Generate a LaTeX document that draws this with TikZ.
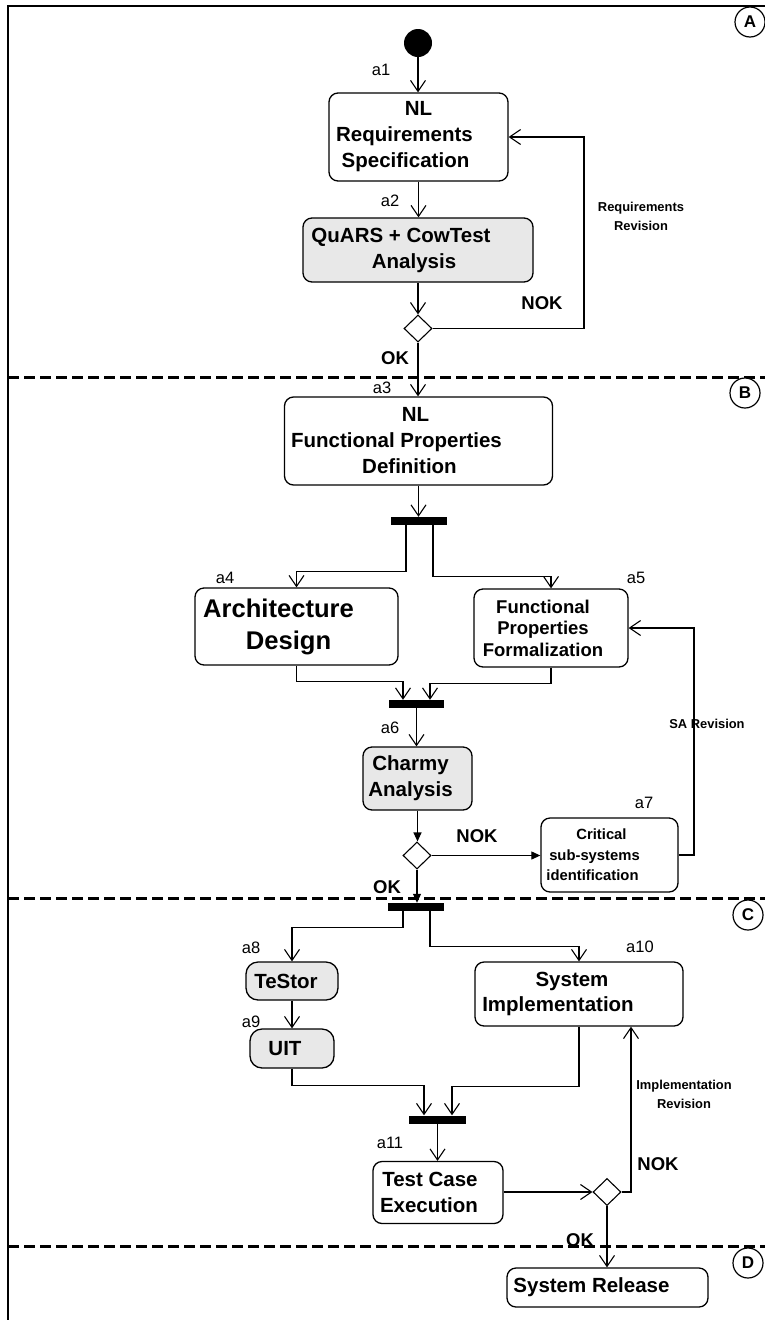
\documentclass[tikz,border=0pt]{standalone}
\usepackage{fontspec}
\setmainfont{Liberation Sans}
\usetikzlibrary{arrows.meta,shapes.geometric}
\newcommand{\shl}[2]{\mbox{#2\hspace{#1}}}
\begin{document}
\begin{tikzpicture}[x=1pt,y=-1pt,
 act/.style={draw, line width=1.3pt, rounded corners=9pt, inner sep=0pt, align=center, fill=white, font=\fontsize{20.5}{26}\selectfont\bfseries},
 gact/.style={act, fill=black!9},
 barnode/.style={fill=black, inner sep=0pt, minimum height=8pt},
 dec/.style={diamond, draw, line width=1.1pt, inner sep=0pt, minimum width=28pt, minimum height=27pt, fill=white},
 conn/.style={line width=1.1pt, -{Straight Barb[length=11pt,width=15pt]}},
 fconn/.style={line width=1.1pt, -{Triangle[length=9pt,width=8pt]}},
 alab/.style={font=\fontsize{16.5}{18}\selectfont, inner sep=0pt},
 oklab/.style={font=\fontsize{18.5}{20}\selectfont\bfseries, inner sep=0pt},
 note/.style={font=\fontsize{12.9}{19}\selectfont\bfseries, align=center, inner sep=0pt},
 lane/.style={line width=3pt, dash pattern=on 11pt off 5pt},
 lanetag/.style={circle, draw, line width=1.2pt, fill=white, minimum size=30pt, inner sep=0pt, font=\fontsize{17}{17}\selectfont\bfseries}]
\useasboundingbox (0,0) rectangle (765,1320);
\clip (0,0) rectangle (765,1320);
\fill[white] (0,0) rectangle (765,1320);
% frame and lanes
\draw[line width=1.4pt] (766,6) -- (8,6) -- (8,1321);
\draw[lane] (8,377) -- (766,377);
\draw[lane] (8,898) -- (766,898);
\draw[lane] (8,1246) -- (766,1246);
\node[lanetag] (tA) at (750,22) {A};
\node[lanetag] (tB) at (745,393) {B};
\node[lanetag] (tC) at (748,915) {C};
\node[lanetag] (tD) at (748,1263) {D};
% nodes
\node[fill=black, circle, minimum size=28pt, inner sep=0pt] (start) at (418,43) {};
\node[act, minimum width=179pt, minimum height=88pt] (nlr) at (418.5,137) {NL\\\shl{28pt}{Requirements}\\\shl{26pt}{Specification}};
\node[gact, minimum width=230pt, minimum height=64pt] (quars) at (418,250) {\shl{34pt}{QuARS + CowTest}\\\shl{8pt}{Analysis}};
\node[dec] (d1) at (418,328.5) {};
\node[act, minimum width=268pt, minimum height=88pt] (fpd) at (418.5,441) {\shl{6pt}{NL}\\\shl{44pt}{Functional Properties}\\\shl{18pt}{Definition}};
\node[barnode, minimum width=56pt] (fork1) at (418.5,521) {};
\node[act, minimum width=203pt, minimum height=77pt, font=\fontsize{25.6}{32}\selectfont\bfseries] (arch) at (296.5,626.5) {\shl{36pt}{Architecture}\\\shl{16pt}{Design}};
\node[act, minimum width=154pt, minimum height=78pt, font=\fontsize{18.5}{21.5}\selectfont\bfseries] (fpf) at (551,628) {\shl{16pt}{Functional}\\\shl{16pt}{Properties}\\\shl{16pt}{Formalization}};
\node[barnode, minimum width=55pt] (join2) at (416.5,704) {};
\node[gact, minimum width=109pt, minimum height=63pt] (charmy) at (417.5,778.5) {\shl{14pt}{Charmy}\\\shl{14pt}{Analysis}};
\node[dec] (d2) at (417,855.5) {};
\node[act, minimum width=137pt, minimum height=74pt, font=\fontsize{14.8}{20.5}\selectfont\bfseries] (crit) at (609.5,855) {\shl{16pt}{Critical}\\\shl{30pt}{sub-systems}\\\shl{34pt}{identification}};
\node[barnode, minimum width=56pt] (fork3) at (416,907) {};
\node[gact, rounded corners=12pt, minimum width=92pt, minimum height=38pt] (testor) at (292,981) {\shl{12pt}{TeStor}};
\node[gact, rounded corners=12pt, minimum width=84pt, minimum height=39pt] (uit) at (292,1048.5) {\shl{14pt}{UIT}};
\node[act, minimum width=208pt, minimum height=64pt, font=\fontsize{20.5}{25}\selectfont\bfseries] (sysimpl) at (579,994) {\shl{14pt}{System}\\\shl{42pt}{Implementation}};
\node[barnode, minimum width=57pt] (join4) at (437.5,1119.5) {};
\node[act, minimum width=130pt, minimum height=62pt] (tce) at (438,1192.5) {\shl{16pt}{Test Case}\\\shl{18pt}{Execution}};
\node[dec] (d3) at (607,1192) {};
\node[act, minimum width=201pt, minimum height=39pt] (rel) at (607.5,1287.5) {\shl{32pt}{System Release}};
% activity labels
\node[alab] (la1) at (381,70) {a1};
\node[alab] (la2) at (390,201) {a2};
\node[alab] (la3) at (382,388) {a3};
\node[alab] (la4) at (225,578) {a4};
\node[alab] (la5) at (636,578) {a5};
\node[alab] (la6) at (390,728) {a6};
\node[alab] (la7) at (644,803) {a7};
\node[alab] (la8) at (251,948) {a8};
\node[alab] (la9) at (251,1022) {a9};
\node[alab] (la10) at (640,947) {a10};
\node[alab] (la11) at (390,1143) {a11};
% guards
\node[oklab] (ok1) at (395,358) {OK};
\node[oklab] (nok1) at (542,303) {NOK};
\node[oklab] (ok2) at (387,887) {OK};
\node[oklab] (nok2) at (477,836) {NOK};
\node[oklab] (ok3) at (580,1240) {OK};
\node[oklab] (nok3) at (658,1164) {NOK};
% notes
\node[note] (n1) at (641,216.5) {Requirements\\Revision};
\node[note] (n2) at (707,724) {SA Revision};
\node[note] (n3) at (684,1094) {Implementation\\Revision};
% connectors
\draw[conn] (start.south) -- (start.south |- nlr.north);
\draw[conn] (nlr.south) -- (nlr.south |- quars.north);
\draw[conn] (quars.south) -- (quars.south |- d1.north);
\draw[conn] (d1.south) -- (d1.south |- fpd.north);
\coordinate (rr) at (584,137);
\draw[conn] (d1.east) -| (rr) -- (nlr.east);
\draw[conn] (fpd.south) -- (fpd.south |- fork1.north);
\draw[conn] ([xshift=-12.5pt]fork1.south) -- ++(0,46) -| (arch.north);
\draw[conn] ([xshift=14.5pt]fork1.south) -- ++(0,51) -| (fpf.north);
\draw[conn] (arch.south) -- ++(0,16) -| ([xshift=-13.5pt]join2.north);
\draw[conn] (fpf.south) -- ++(0,16) -| ([xshift=13.5pt]join2.north);
\draw[conn] (join2.south) -- (join2.south |- charmy.north);
\draw[fconn] (charmy.south) -- (charmy.south |- d2.north);
\draw[fconn] (d2.east) -- (d2.east -| crit.west);
\coordinate (rs) at (694,628);
\draw[conn] (crit.east) -| (rs) -- (fpf.east);
\draw[fconn] (d2.south) -- (d2.south |- fork3.north);
\draw[conn] ([xshift=-13pt]fork3.south) -- ++(0,16) -| (testor.north);
\draw[conn] ([xshift=14pt]fork3.south) -- ++(0,35) -| (sysimpl.north);
\draw[conn] (testor.south) -- (testor.south |- uit.north);
\draw[conn] (uit.south) -- ++(0,17) -| ([xshift=-13.5pt]join4.north);
\draw[conn] (sysimpl.south) -- ++(0,60) -| ([xshift=14.5pt]join4.north);
\draw[conn] (join4.south) -- (join4.south |- tce.north);
\draw[conn] (tce.east |- d3.west) -- (d3.west);
\coordinate (ri) at (631,1192);
\draw[conn] (d3.east) -- (ri) -- (ri |- sysimpl.south);
\draw[conn] (d3.south) -- (d3.south |- rel.north);
\end{tikzpicture}
\end{document}
